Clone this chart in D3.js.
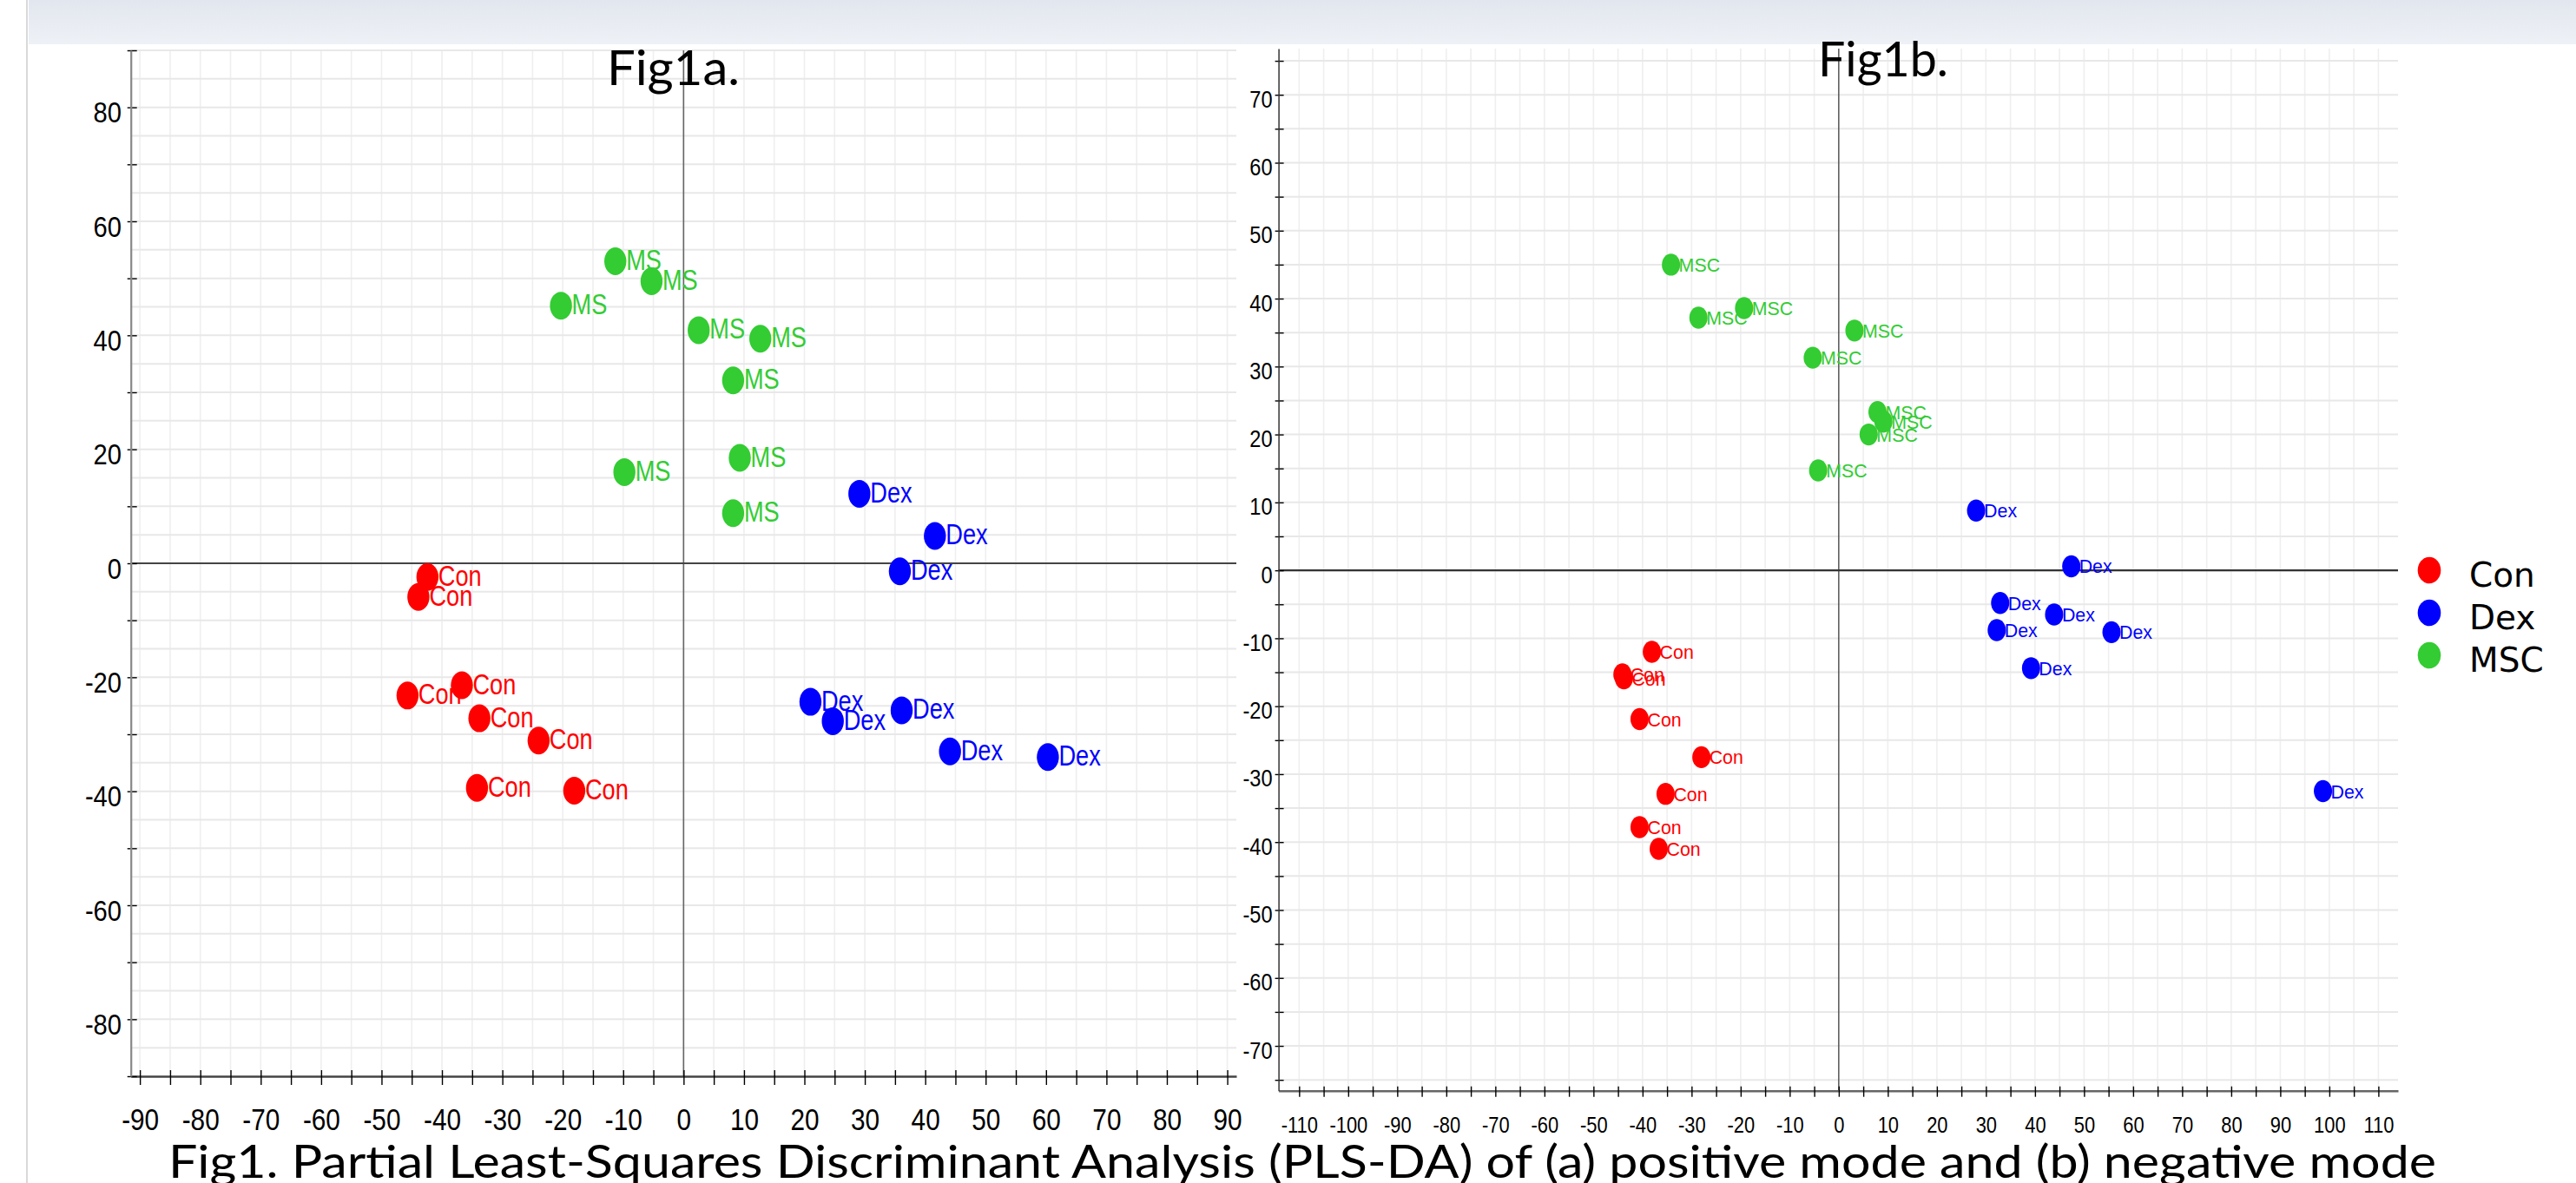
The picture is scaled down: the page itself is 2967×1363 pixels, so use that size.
<!DOCTYPE html>
<html><head><meta charset="utf-8">
<script src="https://cdn.jsdelivr.net/npm/d3@7"></script>
<style>
html,body{margin:0;padding:0;background:#fff;overflow:hidden}
svg{display:block}
</style></head><body>
<svg id="chart" width="2967" height="1363"></svg>
<script>
// ---------------- data ----------------
const groups = ["Con", "Dex", "MSC"];
const fig1aPointLabels = ["Con", "Dex", "MS"];
const fig1bPointLabels = ["Con", "Dex", "MSC"];

// Fig1a (positive mode) scores [x, y]
const fig1aCon = [[-43.9,-5.9],[-42.4,-2.4],[-45.7,-23.2],[-36.7,-21.4],[-33.8,-27.2],[-24.0,-31.1],[-34.2,-39.4],[-18.1,-39.9]];
const fig1aDex = [[29.1,12.2],[41.6,4.8],[35.8,-1.4],[21.0,-24.3],[24.7,-27.7],[36.1,-25.8],[44.1,-33.0],[60.3,-34.0]];
const fig1aMSC = [[-11.3,53.0],[-5.3,49.5],[-20.3,45.2],[2.5,40.9],[12.7,39.4],[8.2,32.1],[9.3,18.5],[-9.8,16.0],[8.2,8.8]];

// Fig1b (negative mode) scores [x, y]
const fig1bCon = [[-38.1,-12.0],[-44.1,-15.3],[-43.8,-15.9],[-40.6,-21.9],[-28.0,-27.5],[-35.3,-32.9],[-40.6,-37.8],[-36.7,-41.0]];
const fig1bDex = [[28.0,8.8],[47.4,0.6],[32.9,-4.8],[43.9,-6.5],[32.2,-8.8],[55.6,-9.1],[39.2,-14.4],[98.7,-32.5]];
const fig1bMSC = [[-34.2,45.0],[-28.6,37.2],[-19.3,38.6],[3.2,35.3],[-5.3,31.3],[7.9,23.3],[9.1,21.9],[6.1,20.0],[-4.2,14.7]];

// tick labels
const fig1aXLabels = [-90,-80,-70,-60,-50,-40,-30,-20,-10,0,10,20,30,40,50,60,70,80,90];
const fig1aYLabels = [-80,-60,-40,-20,0,20,40,60,80];
const fig1bXLabels = [-110,-100,-90,-80,-70,-60,-50,-40,-30,-20,-10,0,10,20,30,40,50,60,70,80,90,100,110];
const fig1bYLabels = [-70,-60,-50,-40,-30,-20,-10,0,10,20,30,40,50,60,70];

const titles = ["Fig1a.", "Fig1b."];
const caption = "Fig1. Partial Least-Squares Discriminant Analysis (PLS-DA) of (a) positive mode and (b) negative mode";

// ---------------- styles ----------------
const colors = {Con: "#ff0000", Dex: "#0000ff", MSC: "#33cc33"};
const svg = d3.select("#chart");

// header band
const defs = svg.append("defs");
const grad = defs.append("linearGradient").attr("id","band").attr("x1",0).attr("x2",0).attr("y1",0).attr("y2",1);
grad.append("stop").attr("offset","0%").attr("stop-color","#e2e6ee");
grad.append("stop").attr("offset","100%").attr("stop-color","#eef1f6");
svg.append("rect").attr("x",33).attr("y",0).attr("width",2934).attr("height",51).attr("fill","url(#band)");
svg.append("line").attr("x1",31).attr("x2",31).attr("y1",0).attr("y2",1363).attr("stroke","#d9d9d9").attr("stroke-width",2);

function panel(cfg) {
  const x = d3.scaleLinear().domain(cfg.xDomain).range(cfg.xRange);
  const y = d3.scaleLinear().domain(cfg.yDomain).range(cfg.yRange);
  const g = svg.append("g");
  const [x0, x1] = cfg.xRange, [yb, yt] = cfg.yRange;

  // grid
  g.append("g").selectAll("line").data(cfg.vGrid).join("line")
    .attr("x1", d => x(d)).attr("x2", d => x(d)).attr("y1", yt).attr("y2", yb)
    .attr("stroke", "#efefef").attr("stroke-width", 1.6);
  g.append("g").selectAll("line").data(cfg.hGrid).join("line")
    .attr("x1", x0).attr("x2", x1).attr("y1", d => y(d)).attr("y2", d => y(d))
    .attr("stroke", "#e8e8e8").attr("stroke-width", 2);

  // zero lines
  g.append("line").attr("x1", x(0)).attr("x2", x(0)).attr("y1", yt).attr("y2", yb)
    .attr("stroke", cfg.zeroV).attr("stroke-width", cfg.zeroVW);
  g.append("line").attr("x1", x0).attr("x2", x1).attr("y1", y(0)).attr("y2", y(0))
    .attr("stroke", cfg.zeroH).attr("stroke-width", cfg.zeroHW);

  // x axis
  const xa = g.append("g").attr("transform", `translate(0,${yb})`)
    .call(d3.axisBottom(x).tickValues(cfg.xTicks)
      .tickFormat(d => cfg.xLabels.includes(d) ? String(d) : "")
      .tickSizeInner(cfg.xTickDown).tickSizeOuter(0).tickPadding(0));
  xa.select(".domain").attr("stroke", cfg.xAxisColor).attr("stroke-width", cfg.xAxisW);
  xa.selectAll(".tick line").attr("y1", -cfg.xTickUp).attr("stroke", "#000").attr("stroke-width", 1.4);
  xa.selectAll(".tick text").attr("y", 0).attr("dy", null)
    .attr("transform", `translate(0,${cfg.xLabelBase}) scale(${cfg.xLabelSx},1)`)
    .attr("font-family", "'Liberation Sans', Arial, sans-serif").attr("font-size", cfg.xLabelSize).attr("fill", "#000");

  // y axis
  const ya = g.append("g").attr("transform", `translate(${x0},0)`)
    .call(d3.axisLeft(y).tickValues(cfg.yTicks)
      .tickFormat(d => cfg.yLabels.includes(d) ? String(d) : "")
      .tickSizeInner(cfg.yTickLeft).tickSizeOuter(0).tickPadding(0));
  ya.select(".domain").attr("stroke", cfg.yAxisColor).attr("stroke-width", cfg.yAxisW);
  ya.selectAll(".tick line").attr("x2", cfg.yTickRight).attr("x1", -cfg.yTickLeft).attr("stroke", "#000").attr("stroke-width", 1.4);
  ya.selectAll(".tick text").attr("x", 0).attr("dy", null).attr("y", 0)
    .attr("transform", `translate(${-cfg.yLabelGap},${cfg.yLabelBase}) scale(${cfg.yLabelSx},1)`)
    .attr("font-family", "'Liberation Sans', Arial, sans-serif").attr("font-size", cfg.yLabelSize).attr("fill", "#000");
  g.selectAll(".tick").filter(d => false).remove();
  ya.selectAll(".domain").raise();

  // points + labels
  cfg.series.forEach((pts, i) => {
    const grp = groups[i];
    const sg = g.append("g");
    pts.forEach(p => {
      sg.append("ellipse").attr("cx", x(p[0])).attr("cy", y(p[1]))
        .attr("rx", cfg.rx).attr("ry", cfg.ry).attr("fill", colors[grp]);
      sg.append("text").text(cfg.pointLabels[i])
        .attr("transform", `translate(${x(p[0]) + cfg.lblDx},${y(p[1]) + cfg.lblDy}) scale(${cfg.lblSx},1)`)
        .attr("font-family", "'Liberation Sans', Arial, sans-serif").attr("font-size", cfg.lblSize)
        .attr("fill", colors[grp]);
    });
  });

  // title
  svg.append("text").text(cfg.title).attr("x", cfg.titleX).attr("y", cfg.titleY)
    .attr("font-family", "Lato, 'Open Sans', sans-serif").attr("font-size", 56)
    .attr("textLength", cfg.titleLen).attr("lengthAdjust", "spacingAndGlyphs").attr("fill", "#000");
}

panel({
  xDomain: [-91.5, 91.5], xRange: [150.7, 1424],
  yDomain: [-90, 90], yRange: [1240, 58],
  vGrid: d3.range(-90, 91, 5), hGrid: d3.range(-85, 91, 5),
  xTicks: d3.range(-90, 91, 5), yTicks: d3.range(-90, 91, 10),
  xLabels: fig1aXLabels, yLabels: fig1aYLabels,
  zeroV: "#666", zeroVW: 1.6, zeroH: "#444", zeroHW: 1.8,
  xAxisColor: "#444", xAxisW: 2.5, yAxisColor: "#888", yAxisW: 2.2,
  xTickUp: 7, xTickDown: 10, yTickLeft: 4, yTickRight: 7,
  xLabelBase: 62, xLabelSize: 35, xLabelSx: 0.85,
  yLabelGap: 10.7, yLabelBase: 17, yLabelSize: 33.5, yLabelSx: 0.87,
  series: [fig1aCon, fig1aDex, fig1aMSC], pointLabels: fig1aPointLabels,
  rx: 12.7, ry: 16, lblDx: 12.5, lblDy: 10, lblSx: 0.8, lblSize: 34,
  title: titles[0], titleX: 699, titleY: 98, titleLen: 153
});

panel({
  xDomain: [-114.2, 114], xRange: [1472.6, 2762],
  yDomain: [-76.6, 76.8], yRange: [1256.7, 56],
  vGrid: d3.range(-110, 111, 5), hGrid: d3.range(-75, 76, 5),
  xTicks: d3.range(-110, 111, 5), yTicks: d3.range(-75, 76, 5),
  xLabels: fig1bXLabels, yLabels: fig1bYLabels,
  zeroV: "#222", zeroVW: 1.1, zeroH: "#333", zeroHW: 2.2,
  xAxisColor: "#666", xAxisW: 2.6, yAxisColor: "#333", yAxisW: 1.5,
  xTickUp: 5, xTickDown: 7, yTickLeft: 4, yTickRight: 6,
  xLabelBase: 48, xLabelSize: 25.5, xLabelSx: 0.86,
  yLabelGap: 7, yLabelBase: 14, yLabelSize: 28.5, yLabelSx: 0.83,
  series: [fig1bCon, fig1bDex, fig1bMSC], pointLabels: fig1bPointLabels,
  rx: 10.5, ry: 12.7, lblDx: 9, lblDy: 8, lblSx: 0.93, lblSize: 23,
  title: titles[1], titleX: 2094, titleY: 88, titleLen: 150
});

// legend
const legend = svg.append("g");
groups.forEach((grp, i) => {
  const cy = 657 + i * 49;
  legend.append("ellipse").attr("cx", 2798).attr("cy", cy).attr("rx", 13.3).attr("ry", 15.3).attr("fill", colors[grp]);
  legend.append("text").text(grp).attr("x", 2844).attr("y", cy + 19)
    .attr("font-family", "'DejaVu Sans', sans-serif").attr("font-size", 39).attr("fill", "#000");
});

// caption
svg.append("text").text(caption).attr("x", 194).attr("y", 1357)
  .attr("font-family", "Lato, 'Open Sans', sans-serif").attr("font-size", 52)
  .attr("textLength", 2612).attr("lengthAdjust", "spacingAndGlyphs").attr("fill", "#000");
</script>
</body></html>
